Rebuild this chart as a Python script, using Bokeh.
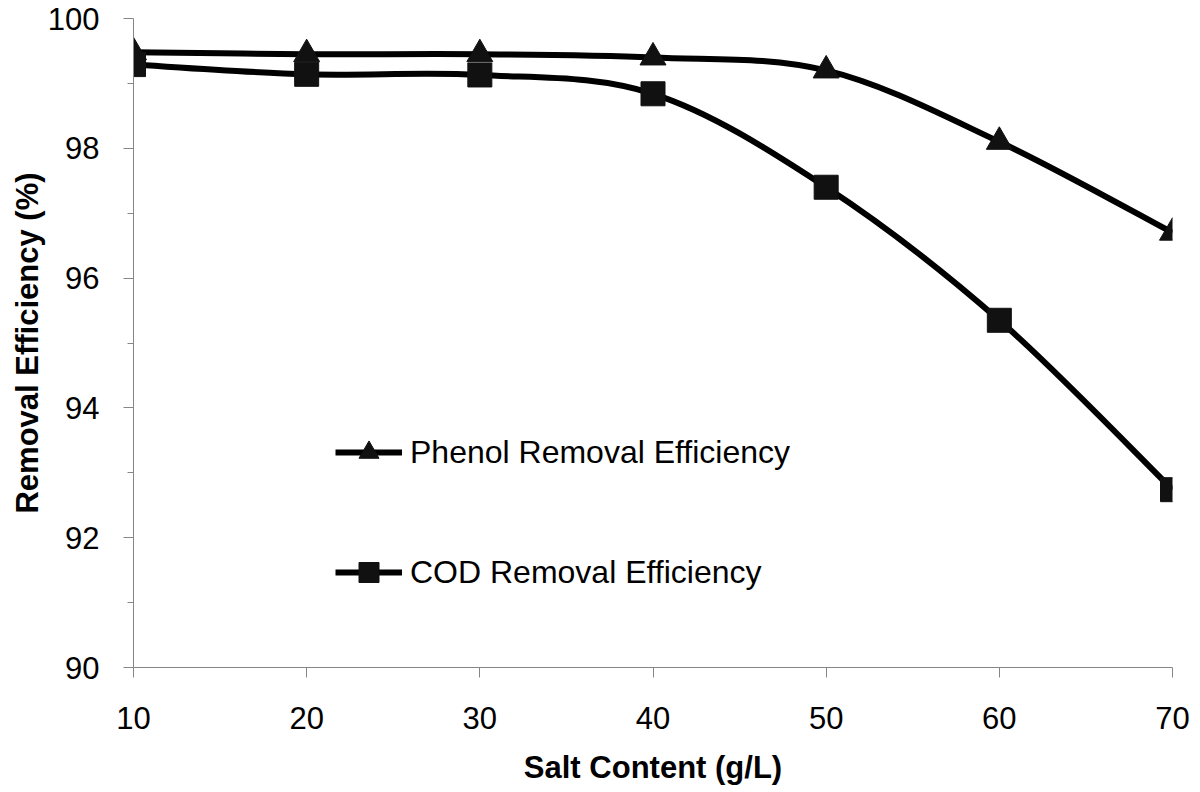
import numpy as np
from bokeh.plotting import figure
from bokeh.models import Range1d, Legend, LegendItem, FixedTicker, ColumnDataSource
from bokeh.embed import file_html
from bokeh.resources import INLINE

# ---- data ----
salt = [10, 20, 30, 40, 50, 60, 70]
phenol = [99.48, 99.45, 99.45, 99.40, 99.20, 98.10, 96.70]
cod = [99.29, 99.14, 99.13, 98.84, 97.40, 95.35, 92.74]
x_ticks = [10, 20, 30, 40, 50, 60, 70]
y_ticks = [90, 92, 94, 96, 98, 100]
y_minor = [91, 93, 95, 97, 99]

FONT = "Liberation Sans"


def smooth_segments(xs, ys, k=1.0 / 6.0):
    """Bezier control points (Catmull-Rom style smoothing) between data points."""
    xs = np.asarray(xs, float)
    ys = np.asarray(ys, float)
    n = len(xs)
    xp = np.concatenate([[xs[0]], xs, [xs[-1]]])
    yp = np.concatenate([[ys[0]], ys, [ys[-1]]])
    d = dict(x0=[], y0=[], x1=[], y1=[], cx0=[], cy0=[], cx1=[], cy1=[])
    for i in range(n - 1):
        j = i + 1
        d["x0"].append(xp[j]); d["y0"].append(yp[j])
        d["x1"].append(xp[j + 1]); d["y1"].append(yp[j + 1])
        d["cx0"].append(xp[j] + (xp[j + 1] - xp[j - 1]) * k)
        d["cy0"].append(yp[j] + (yp[j + 1] - yp[j - 1]) * k)
        d["cx1"].append(xp[j + 1] - (xp[j + 2] - xp[j]) * k)
        d["cy1"].append(yp[j + 1] - (yp[j + 2] - yp[j]) * k)
    return ColumnDataSource(d)


p = figure(width=1200, height=792, output_backend="svg", toolbar_location=None,
           x_range=Range1d(10, 70), y_range=Range1d(90, 100),
           min_border_left=133, min_border_right=28, min_border_top=18,
           min_border_bottom=125)
p.outline_line_color = None
p.xgrid.visible = False
p.ygrid.visible = False
p.background_fill_color = "white"

axis_col = "#868686"
for ax in (p.xaxis[0], p.yaxis[0]):
    ax.axis_line_color = axis_col
    ax.major_tick_line_color = axis_col
    ax.minor_tick_line_color = axis_col
    ax.major_tick_out = 10
    ax.major_tick_in = 0
    ax.major_label_text_font = FONT
    ax.major_label_text_font_size = "31px"
    ax.major_label_text_color = "black"
    ax.axis_label_text_font = FONT
    ax.axis_label_text_font_size = "31px"
    ax.axis_label_text_font_style = "bold"
    ax.axis_label_text_color = "black"

p.xaxis.ticker = FixedTicker(ticks=x_ticks)
p.yaxis.ticker = FixedTicker(ticks=y_ticks, minor_ticks=y_minor)
p.xaxis.minor_tick_line_color = None
p.yaxis.minor_tick_out = 6
p.yaxis.minor_tick_in = 0
p.xaxis.major_label_standoff = 29
p.yaxis.major_label_standoff = 24
p.xaxis.axis_label = "Salt Content (g/L)"
p.yaxis.axis_label = "Removal Efficiency (%)"
p.xaxis.axis_label_standoff = 18
p.yaxis.axis_label_standoff = 0

src_p = smooth_segments(salt, phenol)
src_c = smooth_segments(salt, cod)

lp = p.bezier("x0", "y0", "x1", "y1", "cx0", "cy0", "cx1", "cy1", source=src_p,
              line_color="black", line_width=6)
lc = p.bezier("x0", "y0", "x1", "y1", "cx0", "cy0", "cx1", "cy1", source=src_c,
              line_color="black", line_width=6)

mp = p.scatter(salt, phenol, marker="triangle", size=26, fill_color="#111111",
               line_color="#111111", line_width=1)
mc = p.scatter(salt, cod, marker="square", size=24, fill_color="#111111",
               line_color="#111111", line_width=1)

legend = Legend(items=[
    LegendItem(label="Phenol Removal Efficiency", renderers=[lp, mp]),
    LegendItem(label="COD Removal Efficiency", renderers=[lc, mc]),
], location=(202, 70))
legend.label_text_font = FONT
legend.label_text_font_size = "32px"
legend.label_text_color = "black"
legend.glyph_width = 67
legend.glyph_height = 50
legend.label_height = 50
legend.spacing = 70
legend.label_standoff = 8
legend.padding = 0
legend.margin = 0
legend.border_line_color = None
legend.background_fill_alpha = 0
p.add_layout(legend, "center")

open("out.html", "w").write(file_html(p, INLINE))
